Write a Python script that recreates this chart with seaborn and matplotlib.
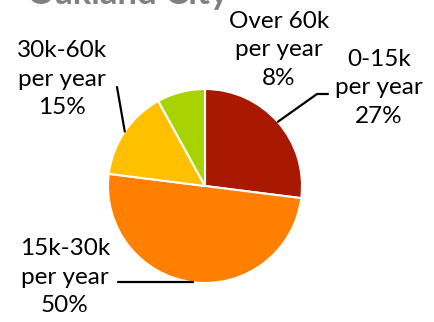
import numpy as np
import matplotlib
matplotlib.use('Agg')
import matplotlib.pyplot as plt
import seaborn as sns
from matplotlib.lines import Line2D

sns.set_theme(style='white')
plt.rcParams['font.family'] = ['Lato', 'DejaVu Sans']

# data
categories = ['0-15k\nper year', '15k-30k\nper year', '30k-60k\nper year', 'Over 60k\nper year']
shares = [27, 50, 15, 8]
colors = ['#A91800', '#FF7F00', '#FFC000', '#A9D300']
title = 'Oakland City'

W, H = 435, 322
fig = plt.figure(figsize=(W / 100, H / 100), dpi=100)
fig.patch.set_facecolor('white')

# pie centre (205, 186) and radius 97 in image pixels
cx, cy, r = 205, 186, 97
ax = fig.add_axes([(cx - r) / W, (H - cy - r) / H, 2 * r / W, 2 * r / H])
wedges, _ = ax.pie(shares, colors=colors, startangle=90, counterclock=False,
                   wedgeprops=dict(edgecolor='white', linewidth=1.5))
ax.set_xlim(-1, 1)
ax.set_ylim(-1, 1)
ax.set_aspect('equal')
ax.axis('off')


def fpix(x, y):
    # image pixel (top-left origin) -> figure fraction
    return x / W, (H - y) / H


# label centres and leader paths (image pixels)
label_pos = [(379, 88), (65, 277), (62, 79), (279, 50)]
leader_pts = [[(328, 94), (317, 94)], [(118, 283)], [(117, 87)], None]

for wedge, cat, share, pos, pts in zip(wedges, categories, shares, label_pos, leader_pts):
    fig.text(*fpix(*pos), f'{cat}\n{share}%', ha='center', va='center',
             fontsize=17.5, color='black', linespacing=1.42)
    if pts is None:
        continue
    mid = np.deg2rad((wedge.theta1 + wedge.theta2) / 2)
    edge = ax.transData.transform((np.cos(mid), np.sin(mid)))
    ex, ey = fig.transFigure.inverted().transform(edge)
    xs = [fpix(*p)[0] for p in pts] + [ex]
    ys = [fpix(*p)[1] for p in pts] + [ey]
    if len(pts) == 1 and pts[0][1] > 200:
        ys[0] = ey
    fig.add_artist(Line2D(xs, ys, color='black', linewidth=1.6,
                          transform=fig.transFigure))

fig.text(*fpix(128, 4), title, ha='center', va='baseline', fontsize=25,
         fontweight='bold', color='#808080')

fig.savefig('out.png', dpi=100)
